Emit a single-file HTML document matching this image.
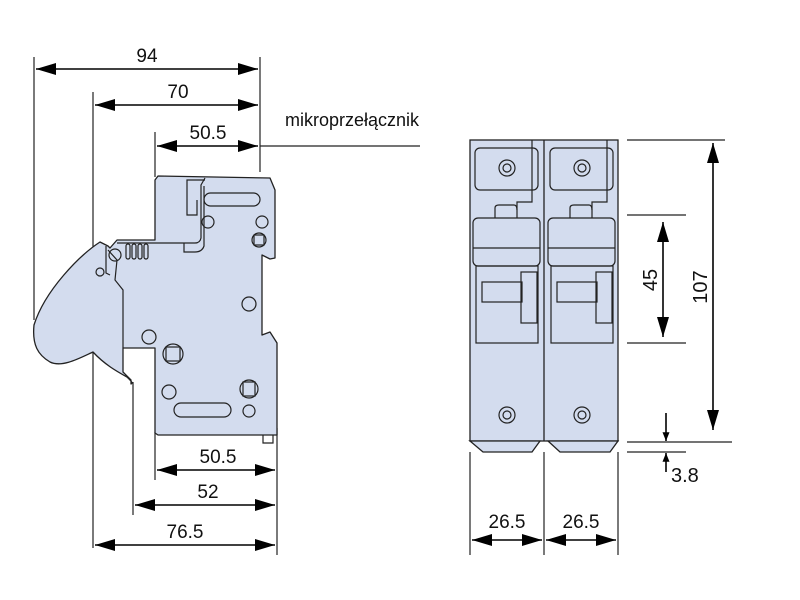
<!DOCTYPE html>
<html><head><meta charset="utf-8"><style>
html,body{margin:0;padding:0;background:#fff;}
svg{display:block;}
text{font-family:"Liberation Sans",sans-serif;font-size:19px;fill:#111;}
</style></head><body>
<svg width="800" height="600" viewBox="0 0 800 600" xmlns="http://www.w3.org/2000/svg">
<defs>
<marker id="a" viewBox="0 0 20 12" refX="20" refY="6" markerWidth="20" markerHeight="12" markerUnits="userSpaceOnUse" orient="auto-start-reverse"><path d="M0,0 L20,6 L0,12 Z" fill="#000"/></marker>
<marker id="s" viewBox="0 0 10 8" refX="10" refY="4" markerWidth="10" markerHeight="7" markerUnits="userSpaceOnUse" orient="auto-start-reverse"><path d="M0,0 L10,4 L0,8 Z" fill="#000"/></marker>
</defs>
<g stroke="#222" stroke-width="1.2" fill="none">
<line x1="34" y1="57" x2="34" y2="320"/>
<line x1="93" y1="92" x2="93" y2="548"/>
<line x1="155" y1="132" x2="155" y2="177"/>
<line x1="260" y1="57" x2="260" y2="172"/>
<line x1="260" y1="146" x2="420" y2="146"/>
<line x1="133" y1="382" x2="133" y2="515"/>
<line x1="155" y1="432" x2="155" y2="480"/>
<line x1="277" y1="428" x2="277" y2="555"/>
</g>
<g stroke="#000" stroke-width="1.6">
<line x1="36" y1="69" x2="258" y2="69" marker-start="url(#a)" marker-end="url(#a)"/>
<line x1="95" y1="105" x2="258" y2="105" marker-start="url(#a)" marker-end="url(#a)"/>
<line x1="157" y1="146" x2="258" y2="146" marker-start="url(#a)" marker-end="url(#a)"/>
<line x1="157" y1="470" x2="275" y2="470" marker-start="url(#a)" marker-end="url(#a)"/>
<line x1="135" y1="505" x2="275" y2="505" marker-start="url(#a)" marker-end="url(#a)"/>
<line x1="95" y1="545" x2="275" y2="545" marker-start="url(#a)" marker-end="url(#a)"/>
</g>
<text x="147" y="62" text-anchor="middle">94</text>
<text x="178" y="98" text-anchor="middle">70</text>
<text x="208" y="139" text-anchor="middle">50.5</text>
<text x="285" y="126" style="font-size:18px">mikroprzełącznik</text>
<text x="218" y="463" text-anchor="middle">50.5</text>
<text x="208" y="498" text-anchor="middle">52</text>
<text x="185" y="538" text-anchor="middle">76.5</text>

<g stroke="#222" stroke-width="1.3" fill="#d3dcee" stroke-linejoin="round">
<path d="M100,242 C80,255 45,290 34,325 C32,345 38,355 50,362 C62,368 80,358 93,352 C105,365 118,372 127,377 C132,382 133,383 131,384 L131,380 L123,372 L123,348 L155,348 L155,433 L158,435 L277,435 L277,343 L270,332 L262,335 L262,255 L270,259 L275,258 L275,190 L270,178 L158,176 L155,180 L155,240 L117,240 L110,248 L108,246 Z"/>
</g>
<g stroke="#222" stroke-width="1.2" fill="none">
<path d="M106,246 L106,273 L110,275"/>
<path d="M108,250 L117,260 L115,280 L123,290 L123,348"/>
<circle cx="100" cy="272" r="4"/>
<circle cx="115" cy="255" r="6"/>
<rect x="126" y="244" width="4" height="15" rx="2"/>
<rect x="132" y="244" width="4" height="15" rx="2"/>
<rect x="138" y="244" width="4" height="15" rx="2"/>
<rect x="144" y="244" width="4" height="15" rx="2"/>
<path d="M117,243 L195,243 Q200,243 201,238 L201,185 L205,178"/>
<path d="M184,243 L184,252 L195,252 Q202,252 204,246 L204,186"/>
<path d="M205,180 L187,180 L187,215 L197,215 L197,200"/>
<rect x="204" y="193" width="56" height="13" rx="6.5"/>
<circle cx="208" cy="222" r="6"/>
<circle cx="262" cy="222" r="6"/>
<circle cx="259" cy="240" r="7"/><rect x="254" y="235" width="10" height="10"/>
<circle cx="249" cy="304" r="7"/>
<circle cx="149" cy="337" r="7"/>
<circle cx="173" cy="354" r="10"/><rect x="166" y="347" width="14" height="14"/>
<circle cx="249" cy="389" r="9"/><rect x="243" y="382" width="12" height="14"/>
<circle cx="169" cy="392" r="7"/>
<circle cx="249" cy="411" r="6"/>
<rect x="174" y="403" width="57" height="14" rx="7"/>
<path d="M263,435 L263,443 L273,443 L273,435"/>
</g>

<g stroke="#222" stroke-width="1.3" fill="#d3dcee">
<rect x="470" y="140" width="148" height="301"/>
<path d="M470,441 L483,452 L532,452 L540,441 Z"/>
<path d="M548,441 L560,452 L610,452 L618,441 Z"/>
</g>
<line x1="544" y1="140" x2="544" y2="441" stroke="#222" stroke-width="1.3"/>
<g stroke="#222" stroke-width="1.2" fill="none">
<g id="m">
<rect x="475" y="148" width="63" height="42" rx="5"/>
<circle cx="507" cy="168" r="8"/><circle cx="507" cy="168" r="4"/>
<path d="M532,140 L532,202 L517,202 L517,210"/>
<path d="M495,218 L495,208 Q495,205 499,205 L514,205 Q517,205 517,210 L517,218"/>
<rect x="473" y="218" width="67" height="48" rx="5"/>
<line x1="473" y1="248" x2="540" y2="248"/>
<rect x="476" y="266" width="62" height="77"/>
<rect x="482" y="282" width="40" height="20"/>
<rect x="521" y="272" width="16" height="51"/>
<circle cx="507" cy="415" r="8"/><circle cx="507" cy="415" r="4"/>
</g>
<use href="#m" x="75"/>
</g>
<g stroke="#222" stroke-width="1.2">
<line x1="627" y1="140" x2="725" y2="140"/>
<line x1="627" y1="215" x2="686" y2="215"/>
<line x1="627" y1="343" x2="686" y2="343"/>
<line x1="627" y1="442" x2="732" y2="442"/>
<line x1="627" y1="452" x2="686" y2="452"/>
<line x1="470" y1="452" x2="470" y2="555"/>
<line x1="544" y1="452" x2="544" y2="555"/>
<line x1="618" y1="452" x2="618" y2="555"/>
</g>
<g stroke="#000" stroke-width="1.6">
<line x1="713" y1="143" x2="713" y2="430" marker-start="url(#a)" marker-end="url(#a)"/>
<line x1="663" y1="222" x2="663" y2="337" marker-start="url(#a)" marker-end="url(#a)"/>
<line x1="666" y1="413" x2="666" y2="441" marker-end="url(#s)"/>
<line x1="666" y1="472" x2="666" y2="453" marker-end="url(#s)"/>
<line x1="472" y1="540" x2="542" y2="540" marker-start="url(#a)" marker-end="url(#a)"/>
<line x1="546" y1="540" x2="616" y2="540" marker-start="url(#a)" marker-end="url(#a)"/>
</g>
<text transform="translate(657,280) rotate(-90)" text-anchor="middle" style="font-size:20px">45</text>
<text transform="translate(707,287) rotate(-90)" text-anchor="middle" style="font-size:20px">107</text>
<text x="671" y="482" style="font-size:20px">3.8</text>
<text x="507" y="528" text-anchor="middle">26.5</text>
<text x="581" y="528" text-anchor="middle">26.5</text>
</svg>
</body></html>
